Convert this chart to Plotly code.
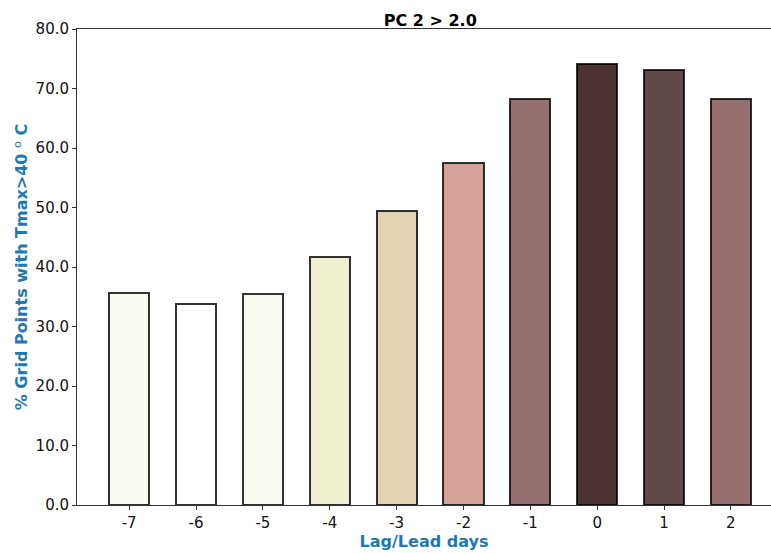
import plotly.graph_objects as go

# Lag/lead days relative to the event and the share of grid points exceeding 40 °C
lags = [-7, -6, -5, -4, -3, -2, -1, 0, 1, 2]
pct_points = [35.6, 33.8, 35.5, 41.7, 49.4, 57.5, 68.2, 74.1, 73.1, 68.2]
bar_colors = ["#fafbf3", "#ffffff", "#fafbf0", "#f0efcf", "#e2d3b1",
              "#d3a39a", "#96706e", "#4b3233", "#614b4a", "#96706e"]
y_ticks = [0, 10, 20, 30, 40, 50, 60, 70, 80]

label_blue = "#1f77b4"
font_family = "DejaVu Sans"

fig = go.Figure(
    go.Bar(
        x=lags,
        y=pct_points,
        width=0.6,
        marker=dict(color=bar_colors,
                    line=dict(color="rgba(0,0,0,0.8)", width=2)),
    )
)

fig.update_layout(
    width=771,
    height=553,
    margin=dict(l=77, r=0, t=29, b=48),
    plot_bgcolor="white",
    paper_bgcolor="white",
    font=dict(family=font_family, size=15, color="#111111"),
    showlegend=False,
    title=dict(text="<b>PC 2 > 2.0</b>", x=0.509, xref="paper", xanchor="center",
               y=1, yref="paper", yanchor="bottom", pad=dict(b=3),
               font=dict(size=16, family=font_family, color="black")),
    bargap=0,
)

fig.update_xaxes(
    range=[-7.78, 2.6],
    tickmode="array",
    tickvals=lags,
    ticktext=[str(v) for v in lags],
    ticks="outside", ticklen=4, tickcolor="#333333",
    showline=True, linecolor="#333333", linewidth=1, mirror=True,
    showgrid=False, zeroline=False,
    title=dict(text="<b>Lag/Lead days</b>", standoff=2,
               font=dict(color=label_blue, size=16, family=font_family)),
)

fig.update_yaxes(
    range=[0, 80],
    tickmode="array",
    tickvals=y_ticks,
    tickformat=".1f",
    ticks="outside", ticklen=4, tickcolor="#333333",
    showline=True, linecolor="#333333", linewidth=1, mirror=False,
    showgrid=False, zeroline=False,
    title=dict(text="<b>% Grid Points with Tmax>40 </b><sup>o</sup><b> C</b>", standoff=3,
               font=dict(color=label_blue, size=16, family=font_family)),
)

fig.write_html("out.html")
